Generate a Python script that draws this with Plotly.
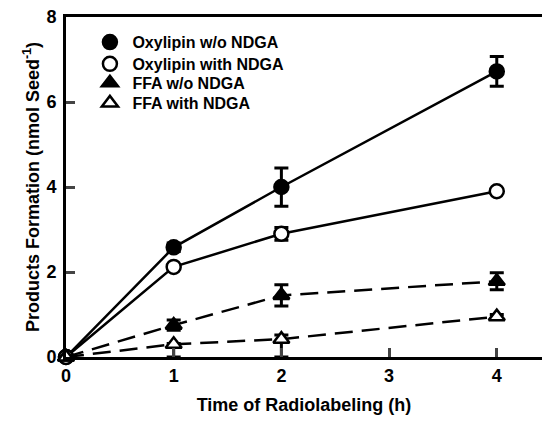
import plotly.graph_objects as go

time_h = [0, 1, 2, 4]
oxy_wo = [0, 2.58, 4.0, 6.72]
oxy_wo_err = [0, 0.1, 0.45, 0.35]
oxy_with = [0, 2.12, 2.9, 3.9]
oxy_with_err = [0, 0.05, 0.15, 0.05]
ffa_wo = [0, 0.75, 1.45, 1.78]
ffa_wo_err = [0, 0.12, 0.25, 0.2]
ffa_with = [0, 0.3, 0.42, 0.95]
ffa_with_err_up = [0, 0.02, 0.1, 0.05]
ffa_with_err_dn = [0, 0.3, 0.42, 0.05]

names = ["Oxylipin w/o NDGA", "Oxylipin with NDGA", "FFA w/o NDGA", "FFA with NDGA"]
legend_ids = ["legend", "legend2", "legend3", "legend4"]
legend_y = [0.926, 0.862, 0.806, 0.747]

fig = go.Figure()
series = [
    (oxy_wo, oxy_wo_err, oxy_wo_err, "solid", "circle", "black"),
    (oxy_with, oxy_with_err, oxy_with_err, "solid", "circle", "white"),
    (ffa_wo, ffa_wo_err, ffa_wo_err, "18px,9px", "triangle-up", "black"),
    (ffa_with, ffa_with_err_up, ffa_with_err_dn, "18px,9px", "triangle-up", "white"),
]
for (y, eu, ed, dash, sym, fill) in series:
    fig.add_trace(go.Scatter(
        x=time_h, y=y, mode="lines+markers", showlegend=False, cliponaxis=False,
        line=dict(color="black", width=2.5, dash=dash),
        marker=dict(symbol=sym, size=14, color=fill, line=dict(color="black", width=2.5)),
        error_y=dict(type="data", array=eu, arrayminus=ed, color="black", thickness=3, width=7),
    ))
for nm, (y, eu, ed, dash, sym, fill), lid in zip(names, series, legend_ids):
    fig.add_trace(go.Scatter(
        x=[None], y=[None], mode="markers", name=nm, legend=lid,
        marker=dict(symbol=sym, size=14, color=fill, line=dict(color="black", width=2.5)),
    ))

legend_common = dict(xanchor="left", yanchor="middle", bgcolor="rgba(0,0,0,0)",
                     font=dict(size=16, weight="bold"), itemwidth=35)
layout_legends = {}
for lid, ly in zip(legend_ids, legend_y):
    layout_legends[lid] = dict(x=0.045, y=ly, **legend_common)

fig.update_layout(
    width=542, height=421,
    margin=dict(l=66, r=0, t=17, b=64),
    plot_bgcolor="white", paper_bgcolor="white",
    font=dict(family="Arial, Liberation Sans", color="black", size=15),
    xaxis=dict(range=[0, 4.42], tickvals=[0, 1, 2, 3, 4], ticks="inside", ticklen=9, tickwidth=2.5,
               showline=True, linewidth=3, linecolor="black", mirror=True, showgrid=False, zeroline=False,
               tickfont=dict(size=18, weight="bold"),
               title=dict(text="Time of Radiolabeling (h)", font=dict(size=18, weight="bold"), standoff=14)),
    yaxis=dict(range=[0, 8], tickvals=[0, 2, 4, 6, 8], ticks="inside", ticklen=9, tickwidth=2.5,
               showline=True, linewidth=3, linecolor="black", showgrid=False, zeroline=False,
               tickfont=dict(size=18, weight="bold"), ticklabelstandoff=3,
               title=dict(text="Products Formation (nmol Seed<sup>-1</sup>)", font=dict(size=18, weight="bold"), standoff=3)),
    **layout_legends,
)
fig.write_html("out.html")
